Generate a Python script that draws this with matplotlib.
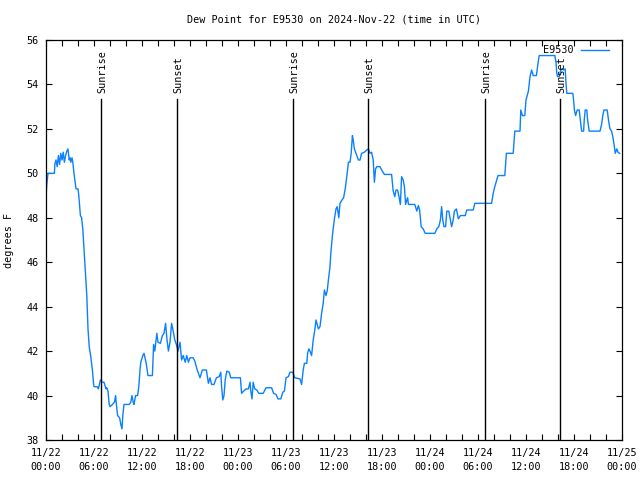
import matplotlib
matplotlib.use("Agg")
import matplotlib.pyplot as plt
import numpy as np

# hours since 2024-11-22 00:00 UTC
hours = [0.0, 0.1, 0.25, 1.05, 1.1, 1.25, 1.4, 1.55, 1.7, 1.85, 2.0, 2.15, 2.3, 2.45, 2.6, 2.75, 2.9, 3.0, 3.1, 3.25, 3.35, 3.5, 3.65, 3.75, 4.0, 4.1, 4.3, 4.45, 4.6, 4.75, 4.95, 5.1, 5.25, 5.4, 5.6, 5.8, 5.95, 6.0, 6.4, 6.55, 6.8, 7.0, 7.25, 7.5, 7.6, 7.75, 7.9, 8.0, 8.3, 8.55, 8.7, 8.8, 8.95, 9.2, 9.35, 9.5, 9.6, 9.75, 10.4, 10.6, 10.75, 10.9, 11.0, 11.2, 11.45, 11.6, 11.75, 11.85, 12.1, 12.25, 12.5, 12.75, 13.3, 13.45, 13.6, 13.85, 14.0, 14.3, 14.55, 14.75, 14.95, 15.1, 15.3, 15.5, 15.7, 15.9, 16.1, 16.3, 16.5, 16.75, 16.95, 17.15, 17.4, 17.6, 17.8, 18.0, 18.4, 18.6, 18.9, 19.25, 19.55, 20.05, 20.3, 20.5, 20.7, 21.0, 21.3, 21.65, 21.85, 21.95, 22.1, 22.25, 22.4, 22.6, 22.9, 23.1, 24.3, 24.45, 24.7, 25.0, 25.3, 25.5, 25.6, 25.75, 25.9, 26.1, 26.35, 26.6, 27.15, 27.5, 28.2, 28.45, 28.75, 29.0, 29.35, 29.6, 29.8, 30.0, 30.3, 30.5, 30.85, 31.1, 31.75, 31.95, 32.15, 32.3, 32.6, 32.7, 32.85, 33.0, 33.2, 33.4, 33.6, 33.75, 33.9, 34.05, 34.25, 34.45, 34.65, 34.8, 35.0, 35.15, 35.3, 35.5, 35.6, 35.8, 35.9, 36.05, 36.25, 36.4, 36.6, 36.75, 37.0, 37.2, 37.4, 37.6, 37.8, 38.0, 38.15, 38.3, 38.4, 38.55, 38.75, 39.05, 39.25, 39.45, 39.8, 40.1, 40.3, 40.5, 40.7, 40.9, 41.05, 41.2, 41.35, 41.75, 41.95, 42.3, 43.2, 43.4, 43.6, 43.75, 43.95, 44.15, 44.3, 44.45, 44.65, 44.8, 44.95, 45.1, 45.2, 45.3, 46.1, 46.35, 46.55, 46.7, 46.9, 47.15, 47.4, 48.6, 48.85, 49.1, 49.3, 49.45, 49.6, 49.75, 49.95, 50.1, 50.35, 50.55, 50.7, 50.9, 51.05, 51.3, 51.55, 51.8, 52.4, 52.6, 53.4, 53.6, 55.7, 55.9, 56.1, 56.5, 57.35, 57.55, 58.4, 58.6, 59.25, 59.35, 59.55, 59.85, 60.0, 60.3, 60.5, 60.7, 60.9, 61.3, 61.5, 61.65, 63.6, 63.75, 63.85, 63.95, 64.15, 64.35, 64.55, 64.7, 64.9, 65.0, 65.1, 65.85, 65.95, 66.05, 66.2, 66.4, 66.65, 66.85, 66.95, 67.2, 67.28, 67.4, 67.6, 67.7, 67.9, 69.25, 69.45, 69.6, 69.75, 70.15, 70.35, 70.5, 70.7, 70.85, 71.05, 71.15, 71.35, 71.5, 71.7]
dewpoint = [48.9, 49.5, 50.0, 50.0, 50.4, 50.6, 50.3, 50.8, 50.4, 50.9, 50.6, 50.95, 50.5, 50.8, 51.0, 51.1, 50.6, 50.7, 50.5, 50.7, 50.5, 50.0, 49.6, 49.3, 49.3, 49.0, 48.1, 48.0, 47.5, 46.6, 45.4, 44.5, 43.0, 42.2, 41.75, 41.15, 40.5, 40.4, 40.4, 40.3, 40.7, 40.6, 40.6, 40.3, 40.35, 40.2, 39.6, 39.5, 39.6, 39.7, 40.0, 39.6, 39.1, 39.0, 38.7, 38.5, 39.1, 39.6, 39.6, 39.7, 40.0, 39.7, 39.6, 40.0, 40.0, 40.4, 41.15, 41.5, 41.8, 41.9, 41.5, 40.9, 40.9, 42.3, 42.0, 42.8, 42.4, 42.35, 42.7, 42.8, 43.25, 42.6, 42.0, 42.4, 43.25, 42.9, 42.5, 42.3, 42.0, 42.4, 41.6, 41.8, 41.5, 41.8, 41.5, 41.7, 41.7, 41.55, 41.15, 40.8, 41.15, 41.15, 40.55, 40.8, 40.5, 40.5, 40.8, 40.85, 41.05, 40.4, 39.8, 40.0, 40.7, 41.1, 41.05, 40.8, 40.8, 40.1, 40.2, 40.3, 40.3, 40.6, 40.2, 39.85, 40.6, 40.3, 40.25, 40.1, 40.1, 40.35, 40.35, 40.1, 40.05, 39.85, 39.85, 40.15, 40.2, 40.8, 40.85, 41.05, 41.05, 40.8, 40.75, 40.5, 41.15, 41.45, 41.45, 41.9, 42.1, 42.0, 41.8, 42.5, 42.95, 43.4, 43.2, 43.0, 43.1, 43.7, 44.15, 44.75, 44.5, 44.7, 45.2, 45.8, 46.4, 47.2, 47.5, 47.95, 48.4, 48.5, 48.0, 48.65, 48.8, 48.9, 49.3, 49.85, 50.5, 50.5, 50.9, 51.7, 51.5, 51.1, 50.9, 50.6, 50.6, 50.9, 50.95, 51.05, 51.1, 50.9, 50.95, 50.6, 49.6, 50.2, 50.3, 50.3, 50.15, 49.95, 49.95, 49.2, 48.95, 49.25, 49.25, 48.9, 48.6, 49.85, 49.7, 49.4, 48.6, 48.8, 48.9, 48.6, 48.6, 48.3, 48.55, 48.35, 47.6, 47.5, 47.3, 47.3, 47.5, 47.6, 47.9, 48.5, 47.9, 47.6, 47.6, 48.3, 48.3, 47.9, 47.6, 47.9, 48.3, 48.4, 47.95, 48.1, 48.1, 48.35, 48.35, 48.65, 48.65, 49.1, 49.4, 49.9, 49.9, 50.9, 50.9, 51.9, 51.9, 52.85, 52.6, 52.6, 53.3, 53.7, 54.35, 54.65, 54.4, 54.4, 54.95, 55.3, 55.3, 55.0, 54.5, 54.35, 54.35, 54.65, 54.7, 54.65, 54.7, 54.05, 53.6, 53.6, 53.3, 52.85, 52.6, 52.85, 52.85, 52.2, 51.9, 51.9, 52.4, 52.85, 52.85, 52.4, 51.9, 51.9, 52.2, 52.6, 52.85, 52.85, 52.3, 52.0, 51.9, 51.65, 51.2, 50.9, 51.1, 50.95, 50.9]

sunrise_hours = [6.91, 30.91, 54.91]
sunset_hours = [16.41, 40.29, 64.29]

xtick_labels = ["11/22\n00:00", "11/22\n06:00", "11/22\n12:00", "11/22\n18:00",
                "11/23\n00:00", "11/23\n06:00", "11/23\n12:00", "11/23\n18:00",
                "11/24\n00:00", "11/24\n06:00", "11/24\n12:00", "11/24\n18:00",
                "11/25\n00:00"]
ytick_values = [38, 40, 42, 44, 46, 48, 50, 52, 54, 56]

FONT = "DejaVu Sans Mono"
FS = 7.3
plt.rcParams['font.family'] = FONT

fig = plt.figure(figsize=(6.4, 4.8), dpi=100)
ax = fig.add_axes([46/640, 40/480, 576/640, 400/480])

ax.plot(hours, dewpoint, color="#0a80ff", lw=1.0, label="E9530")

for h in sunrise_hours:
    ax.axvline(h, ymin=0, ymax=0.852, color="black", lw=1.0)
    ax.text(h + 0.15, 0.8675, "Sunrise", rotation=90, ha="center", va="bottom",
            transform=ax.get_xaxis_transform(), fontsize=FS)
for h in sunset_hours:
    ax.axvline(h, ymin=0, ymax=0.852, color="black", lw=1.0)
    ax.text(h + 0.15, 0.8675, "Sunset", rotation=90, ha="center", va="bottom",
            transform=ax.get_xaxis_transform(), fontsize=FS)

ax.set_xlim(0, 72)
ax.set_ylim(38, 56)
ax.set_xticks(np.arange(0, 73, 6))
ax.set_xticklabels(xtick_labels, fontsize=FS, linespacing=1.5)
ax.set_xticks(np.arange(0, 73, 2), minor=True)
ax.set_yticks(ytick_values)
ax.set_yticklabels([str(v) for v in ytick_values], fontsize=FS)
ax.tick_params(which="both", direction="in", top=True, right=True, length=4, width=0.8)
ax.tick_params(axis="x", which="major", pad=6)
ax.tick_params(axis="y", which="major", pad=5)
for s in ax.spines.values():
    s.set_linewidth(0.9)

ax.set_ylabel("degrees F", fontsize=FS)
ax.yaxis.set_label_coords(-0.0556, 0.5)

fig.text(334/640, 1 - 19/480, "Dew Point for E9530 on 2024-Nov-22 (time in UTC)",
         ha="center", va="center", fontsize=FS)

leg = ax.legend(loc="upper right", frameon=False, markerfirst=False, fontsize=FS,
                handlelength=2.8, handletextpad=0.7, borderaxespad=0.3,
                bbox_to_anchor=(0.99, 1.005))

fig.savefig("out.png", dpi=100)
